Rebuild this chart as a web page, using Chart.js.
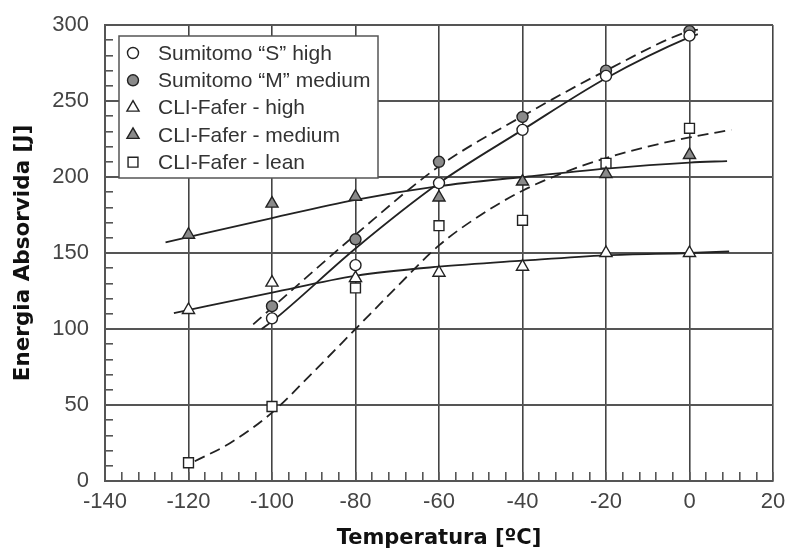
<!DOCTYPE html>
<html>
<head>
<meta charset="utf-8">
<title>Energia Absorvida x Temperatura</title>
<script src="https://cdn.jsdelivr.net/npm/chart.js@4/dist/chart.umd.min.js"></script>
<style>
  html, body { margin: 0; padding: 0; background: #fff; }
  #chart { display: block; }
</style>
</head>
<body>
<canvas id="chart" width="789" height="549"></canvas>
<script>
// test temperatures (ºC)
const temps = [-120, -100, -80, -60, -40, -20, 0];

// measured points, J
const sumitomoS = [null, 107, 142, 196, 231, 266.5, 293];
const sumitomoM = [null, 115, 159, 210, 239.5, 270, 296];
const cliHigh   = [112.5, 130.5, 133.5, 137, 141, 150, 150];
const cliMedium = [162, 182.5, 187, 186.5, 197, 202, 214.5];
const cliLean   = [12, 49, 127, 168, 171.5, 209, 232];

// fitted curves
const curveST = [-102.5, -100, -80, -60, -40, -20, 0, 2];
const curveS  = [100, 105, 153, 196, 231, 265, 292, 294];
const curveMT = [-104.5, -100, -80, -60, -40, -20, 0, 2];
const curveM  = [103, 114, 162, 207, 240, 270, 296, 297];
const curveHighT = [-123.5, -100, -80, -60, -40, -20, 0, 9.5];
const curveHigh  = [110.5, 124, 135, 141, 145, 148.5, 150, 151];
const curveMedT = [-125.5, -100, -80, -60, -40, -20, 0, 9];
const curveMed  = [157, 173, 185, 194, 200, 205.5, 209.5, 210.5];
const curveLeanT = [-118.5, -110, -100, -90, -80, -70, -60, -50, -40, -30, -20, -10, 0, 10];
const curveLean  = [13, 25, 45, 72, 100, 128, 155, 175, 191, 203, 212.5, 220, 226, 231];

const xTicks = { min: -140, max: 20, step: 20, minor: 4 };
const yTicks = { min: 0, max: 300, step: 50, minor: 10 };

const ink = '#222';

function pts(xs, ys) {
    return xs.map((x, i) => ({ x: x, y: ys[i] })).filter(p => p.y !== null);
}

function marks(label, ys, style, fill) {
    return {
        label: label,
        data: pts(temps, ys),
        showLine: false,
        pointStyle: style,
        pointRadius: style === 'circle' ? 5.5 : 7,
        pointBackgroundColor: fill,
        pointBorderColor: ink,
        pointBorderWidth: 1.4,
        clip: false,
        marker: true
    };
}

function curve(xs, ys, dashed) {
    return {
        label: '',
        data: pts(xs, ys),
        borderColor: ink,
        borderWidth: 1.8,
        borderDash: dashed ? [11, 6] : [],
        pointRadius: 0,
        cubicInterpolationMode: 'monotone',
        marker: false
    };
}

// legend box drawn inside the plot, top left
const boxLegend = {
    id: 'boxLegend',
    afterDatasetsDraw(chart) {
        const ctx = chart.ctx;
        const x0 = 119, y0 = 36, w = 259, h = 142;
        ctx.save();
        ctx.fillStyle = '#fff';
        ctx.fillRect(x0, y0, w, h);
        ctx.strokeStyle = '#555';
        ctx.lineWidth = 1.5;
        ctx.strokeRect(x0, y0, w, h);
        ctx.font = '21px "Liberation Sans", Arial, sans-serif';
        ctx.textBaseline = 'middle';
        let row = 0;
        chart.data.datasets.forEach(ds => {
            if (!ds.marker) return;
            const y = 53 + row * 27.3;
            ctx.fillStyle = ds.pointBackgroundColor;
            ctx.strokeStyle = ink;
            ctx.lineWidth = ds.pointBorderWidth;
            Chart.helpers.drawPoint(ctx, {
                pointStyle: ds.pointStyle,
                radius: ds.pointRadius,
                rotation: 0,
                borderWidth: ds.pointBorderWidth
            }, 133, y);
            ctx.fillStyle = '#333';
            ctx.fillText(ds.label, 158, y + 1);
            row++;
        });
        ctx.restore();
    }
};

const tickFont = { family: '"Liberation Sans", Arial, sans-serif', size: 22 };
const titleFont = { family: '"DejaVu Sans", Verdana, sans-serif', weight: 'bold' };

new Chart(document.getElementById('chart').getContext('2d'), {
    type: 'line',
    data: {
        datasets: [
            marks('Sumitomo “S” high', sumitomoS, 'circle', '#fff'),
            marks('Sumitomo “M” medium', sumitomoM, 'circle', '#8a8a8a'),
            marks('CLI-Fafer - high', cliHigh, 'triangle', '#fff'),
            marks('CLI-Fafer - medium', cliMedium, 'triangle', '#8a8a8a'),
            marks('CLI-Fafer - lean', cliLean, 'rect', '#fff'),
            curve(curveST, curveS, false),
            curve(curveMT, curveM, true),
            curve(curveHighT, curveHigh, false),
            curve(curveMedT, curveMed, false),
            curve(curveLeanT, curveLean, true)
        ]
    },
    options: {
        responsive: false,
        devicePixelRatio: 1,
        animation: false,
        layout: { padding: { top: 25, right: 16, left: 0, bottom: 0 } },
        plugins: {
            legend: { display: false },
            tooltip: { enabled: false }
        },
        scales: {
            x: {
                type: 'linear',
                position: 'bottom',
                weight: 1,
                min: xTicks.min,
                max: xTicks.max,
                ticks: { stepSize: xTicks.step, font: tickFont, color: '#444', padding: 8 },
                grid: { color: '#444', lineWidth: 1.6, drawTicks: false },
                border: { color: '#555', width: 2 },
                title: {
                    display: true,
                    text: 'Temperatura [ºC]',
                    color: '#111',
                    font: Object.assign({ size: 21, lineHeight: 1 }, titleFont),
                    padding: 0
                },
                afterFit(scale) {
                    scale.height = 68;
                    scale.paddingLeft = 0;
                    scale.paddingRight = 0;
                }
            },
            xMinor: {
                type: 'linear',
                position: 'bottom',
                weight: 0,
                min: xTicks.min,
                max: xTicks.max,
                ticks: { stepSize: xTicks.minor, display: false },
                grid: { drawOnChartArea: false, drawTicks: true, tickLength: -9, color: '#555', lineWidth: 1.6 },
                border: { display: false },
                afterFit(scale) {
                    scale.height = 0;
                    scale.paddingLeft = 0;
                    scale.paddingRight = 0;
                }
            },
            y: {
                position: 'left',
                weight: 1,
                min: yTicks.min,
                max: yTicks.max,
                ticks: { stepSize: yTicks.step, font: tickFont, color: '#444', padding: 16 },
                grid: { color: '#555', lineWidth: 2, drawTicks: false },
                border: { color: '#555', width: 2 },
                title: {
                    display: true,
                    text: 'Energia Absorvida [J]',
                    color: '#111',
                    font: Object.assign({ size: 21.5, lineHeight: 1 }, titleFont),
                    padding: { top: 13, bottom: 0 }
                },
                afterFit(scale) {
                    scale.width = 105;
                    scale.paddingTop = 0;
                    scale.paddingBottom = 0;
                }
            },
            yMinor: {
                position: 'left',
                weight: 0,
                min: yTicks.min,
                max: yTicks.max,
                ticks: { stepSize: yTicks.minor, display: false },
                grid: { drawOnChartArea: false, drawTicks: true, tickLength: -8, color: '#555', lineWidth: 1.6 },
                border: { display: false },
                afterFit(scale) {
                    scale.width = 0;
                    scale.paddingTop = 0;
                    scale.paddingBottom = 0;
                }
            }
        }
    },
    plugins: [boxLegend]
});
</script>
</body>
</html>
